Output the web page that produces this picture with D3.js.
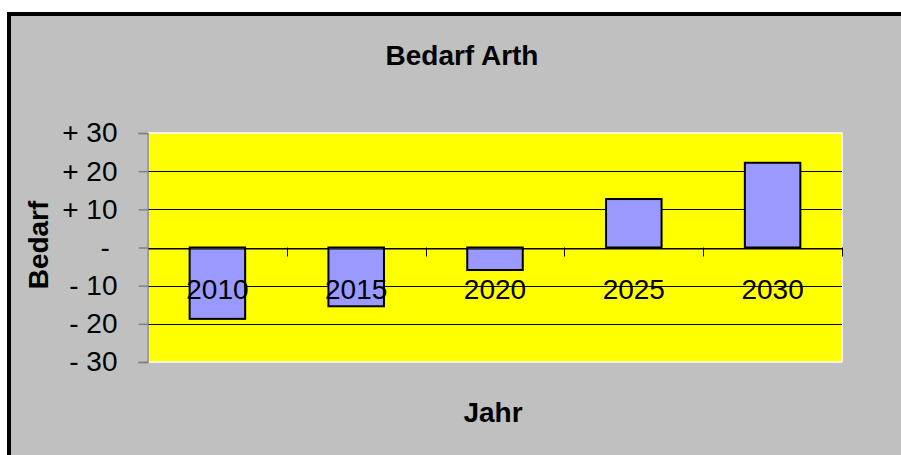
<!DOCTYPE html>
<html>
<head>
<meta charset="utf-8">
<script src="https://cdn.jsdelivr.net/npm/d3@7"></script>
<style>
  body { margin: 0; background: #fff; }
  svg { display: block; font-family: "Liberation Sans", Arial, sans-serif; }
</style>
</head>
<body>
<div id="chart"><svg></svg></div>
<script>
// data
const years = ["2010", "2015", "2020", "2025", "2030"];
const bedarf = [-18.7, -15.4, -5.9, 12.7, 22.2];
const yTicks = [-30, -20, -10, 0, 10, 20, 30];
const yTickLabels = ["- 30", "- 20", "- 10", "- ", "+ 10", "+ 20", "+ 30"];

const W = 901, H = 455;
const plot = { left: 148, right: 842, top: 133, bottom: 362 };
const fontSize = 28;

const svg = d3.select("#chart svg")
  .attr("width", W)
  .attr("height", H);

// chart background + thick frame (right/bottom run off the page)
svg.append("rect")
  .attr("x", 9).attr("y", 14)
  .attr("width", 1000).attr("height", 1000)
  .attr("fill", "#c0c0c0")
  .attr("stroke", "#000")
  .attr("stroke-width", 4);

const x = d3.scaleBand().domain(years).range([plot.left, plot.right]).padding(0);
const y = d3.scaleLinear().domain([-30, 30]).range([plot.bottom, plot.top]);

// plot area
svg.append("rect")
  .attr("x", plot.left).attr("y", plot.top)
  .attr("width", plot.right - plot.left)
  .attr("height", plot.bottom - plot.top)
  .attr("fill", "#ffff00")
  .attr("stroke", "#fff")
  .attr("stroke-width", 1.5);

// gridlines
svg.append("g")
  .selectAll("line")
  .data(yTicks.filter(d => d !== 30 && d !== -30))
  .enter()
  .append("line")
  .attr("x1", plot.left).attr("x2", plot.right)
  .attr("y1", d => Math.round(y(d)) + 0.5)
  .attr("y2", d => Math.round(y(d)) + 0.5)
  .attr("stroke", "#000")
  .attr("stroke-width", 1);

// y axis
const yAxis = d3.axisLeft(y)
  .tickValues(yTicks)
  .tickSize(9)
  .tickPadding(21)
  .tickFormat((d, i) => yTickLabels[i]);

const gy = svg.append("g")
  .attr("transform", `translate(${plot.left - 0.5},0)`)
  .call(yAxis);
gy.select(".domain").attr("stroke", "#808080").attr("stroke-width", 1.5);
gy.selectAll(".tick line").attr("stroke", "#808080").attr("stroke-width", 1.5);
gy.selectAll(".tick text")
  .attr("font-size", fontSize)
  .attr("font-family", "Liberation Sans, Arial, sans-serif")
  .attr("fill", "#000")
  .style("white-space", "pre");

// bars
svg.append("g")
  .selectAll("rect")
  .data(years)
  .enter()
  .append("rect")
  .attr("x", d => x(d) + x.bandwidth() * 0.3)
  .attr("width", x.bandwidth() * 0.4)
  .attr("y", (d, i) => y(Math.max(0, bedarf[i])))
  .attr("height", (d, i) => Math.abs(y(bedarf[i]) - y(0)))
  .attr("fill", "#9999ff")
  .attr("stroke", "#000")
  .attr("stroke-width", 2);

// category axis on the zero line
const xAxis = d3.axisBottom(x).tickSize(0).tickFormat("");
const gx = svg.append("g")
  .attr("transform", `translate(0,${Math.round(y(0)) + 0.5})`)
  .call(xAxis);
gx.select(".domain").attr("stroke", "#000").attr("stroke-width", 1);

svg.append("g")
  .selectAll("line")
  .data(years.slice(1).concat(["end"]))
  .enter()
  .append("line")
  .attr("x1", d => Math.round(d === "end" ? plot.right : x(d)) + 0.5)
  .attr("x2", d => Math.round(d === "end" ? plot.right : x(d)) + 0.5)
  .attr("y1", y(0))
  .attr("y2", y(0) + 9)
  .attr("stroke", "#000");

svg.append("g")
  .selectAll("text")
  .data(years)
  .enter()
  .append("text")
  .attr("x", d => x(d) + x.bandwidth() / 2)
  .attr("y", 299)
  .attr("text-anchor", "middle")
  .attr("font-size", fontSize)
  .text(d => d);

// titles
svg.append("text")
  .attr("x", 462).attr("y", 65)
  .attr("text-anchor", "middle")
  .attr("font-size", fontSize)
  .attr("font-weight", "bold")
  .text("Bedarf Arth");

svg.append("text")
  .attr("x", 493).attr("y", 422)
  .attr("text-anchor", "middle")
  .attr("font-size", fontSize)
  .attr("font-weight", "bold")
  .text("Jahr");

svg.append("text")
  .attr("transform", "translate(47.5,245) rotate(-90)")
  .attr("text-anchor", "middle")
  .attr("font-size", fontSize)
  .attr("font-weight", "bold")
  .text("Bedarf");
</script>
</body>
</html>
